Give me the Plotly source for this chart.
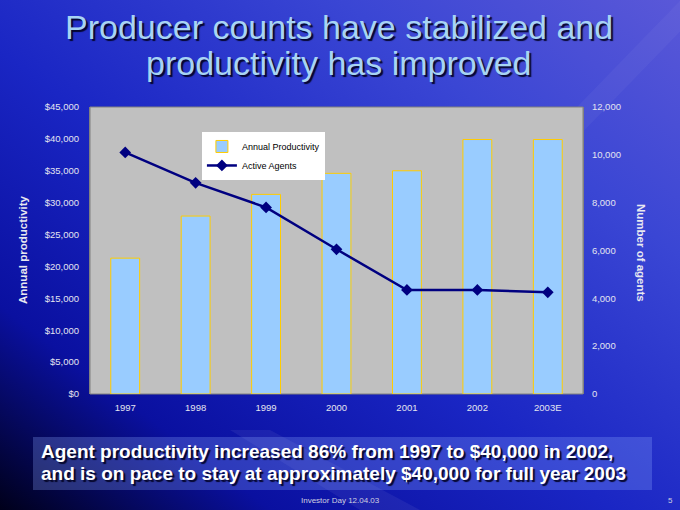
import plotly.graph_objects as go
import urllib.parse

years = ["1997", "1998", "1999", "2000", "2001", "2002", "2003E"]
productivity = [21300, 27900, 31300, 34600, 35000, 39900, 39900]
agents = [10100, 8830, 7800, 6050, 4350, 4350, 4250]

title_lines = ["Producer counts have stabilized and", "productivity has improved"]
bottom_lines = ["Agent productivity increased 86% from 1997 to $40,000 in 2002,",
                "and is on pace to stay at approximately $40,000 for full year 2003"]

svg = """<svg xmlns='http://www.w3.org/2000/svg' width='680' height='510' viewBox='0 0 680 510' preserveAspectRatio='none'>
<defs>
<linearGradient id='g' x1='0' y1='1' x2='1' y2='0'>
<stop offset='0' stop-color='#00001a'/>
<stop offset='0.2' stop-color='#0a10a0'/>
<stop offset='0.45' stop-color='#1a26c4'/>
<stop offset='0.75' stop-color='#3a46d4'/>
<stop offset='1' stop-color='#5a58d8'/>
</linearGradient>
</defs>
<rect width='680' height='510' fill='url(#g)'/>
<polygon points='700,-20 730,-20 420,300 390,300' fill='#ffffff' fill-opacity='0.04'/>
<polygon points='230,430 270,430 420,510 360,510' fill='#ffffff' fill-opacity='0.06'/>
</svg>"""
bg_uri = "data:image/svg+xml;charset=utf-8," + urllib.parse.quote(svg)

fig = go.Figure()
fig.add_trace(go.Bar(
    x=years, y=productivity, name="Annual Productivity",
    marker=dict(color="#99ccff", line=dict(color="#ffcc00", width=1)),
    width=0.41,
))
fig.add_trace(go.Scatter(
    x=years, y=agents, name="Active Agents", yaxis="y2",
    mode="lines+markers",
    line=dict(color="#000080", width=2.5),
    marker=dict(symbol="diamond", size=9, color="#000080"),
))

tick_font = dict(family="Liberation Sans, Arial", size=9.5, color="#e4e4f0")

fig.update_layout(
    width=680, height=510,
    margin=dict(l=90, r=97, t=107, b=116),
    paper_bgcolor="#1a28c4",
    plot_bgcolor="#c0c0c0",
    showlegend=True,
    legend=dict(
        x=0.227, y=0.913, xanchor="left", yanchor="top",
        bgcolor="white", borderwidth=0,
        font=dict(family="Liberation Sans, Arial", size=9, color="black"),
        tracegroupgap=0, itemwidth=30,
    ),
    xaxis=dict(
        tickfont=tick_font, showgrid=False, zeroline=False,
        showline=False, ticks="", ticklabelstandoff=6,
    ),
    yaxis=dict(
        range=[0, 45000], dtick=5000, tickprefix="$", tickformat=",",
        tickfont=tick_font, showgrid=False, zeroline=False,
        showline=True, linecolor="#808080", linewidth=1, ticks="",
        ticklabelstandoff=8,
    ),
    yaxis2=dict(
        range=[0, 12000], dtick=2000, tickformat=",", overlaying="y", side="right",
        tickfont=tick_font, showgrid=False, zeroline=False,
        showline=True, linecolor="#808080", linewidth=1, ticks="",
        ticklabelstandoff=6,
    ),
    images=[dict(source=bg_uri, xref="paper", yref="paper",
                 x=-90/493, y=1 + 107/287, sizex=680/493, sizey=510/287,
                 xanchor="left", yanchor="top", sizing="stretch", layer="below")],
    shapes=[
        dict(type="rect", xref="paper", yref="paper",
             x0=(33-90)/493, x1=(652-90)/493,
             y0=(394-490)/287, y1=(394-437)/287,
             fillcolor="rgba(140,170,255,0.28)", line=dict(width=0), layer="below"),
        dict(type="rect", xref="paper", yref="paper", x0=0, x1=1, y0=0, y1=1,
             fillcolor="#c0c0c0", line=dict(color="#808080", width=1), layer="below"),
    ],
)

shadow = "2px 2px 1px rgba(0,0,30,0.9)"
ann = []
for i, t in enumerate(title_lines):
    ann.append(dict(text=t, xref="paper", yref="paper",
                    x=(339-90)/493, y=(394-(27 + i*36))/287,
                    xanchor="center", yanchor="middle", showarrow=False,
                    font=dict(family="Liberation Sans, Arial", size=34, color="#a8d4f4", shadow=shadow)))
for i, t in enumerate(bottom_lines):
    ann.append(dict(text="<b>" + t + "</b>", xref="paper", yref="paper",
                    x=(39-90)/493, y=(394-(451 + i*22))/287,
                    xanchor="left", yanchor="middle", showarrow=False,
                    font=dict(family="Liberation Sans, Arial", size=19, color="white", shadow=shadow)))
ann.append(dict(text="<b>Annual productivity</b>", xref="paper", yref="paper",
                x=(23-90)/493, y=(394-250)/287, textangle=-90,
                xanchor="center", yanchor="middle", showarrow=False,
                font=dict(family="Liberation Sans, Arial", size=11.5, color="#e8e8f0")))
ann.append(dict(text="<b>Number of agents</b>", xref="paper", yref="paper",
                x=(641-90)/493, y=(394-253)/287, textangle=90,
                xanchor="center", yanchor="middle", showarrow=False,
                font=dict(family="Liberation Sans, Arial", size=11.5, color="#e8e8f0")))
ann.append(dict(text="Investor Day 12.04.03", xref="paper", yref="paper",
                x=(340-90)/493, y=(394-500)/287,
                xanchor="center", yanchor="middle", showarrow=False,
                font=dict(family="Liberation Sans, Arial", size=8, color="#d0d0e0")))
ann.append(dict(text="5", xref="paper", yref="paper",
                x=(670-90)/493, y=(394-500)/287,
                xanchor="center", yanchor="middle", showarrow=False,
                font=dict(family="Liberation Sans, Arial", size=8, color="#d0d0e0")))
fig.update_layout(annotations=ann)

fig.write_html("out.html", config={"displayModeBar": False},
               post_script="document.body.style.margin='0';document.body.style.overflow='hidden';")
